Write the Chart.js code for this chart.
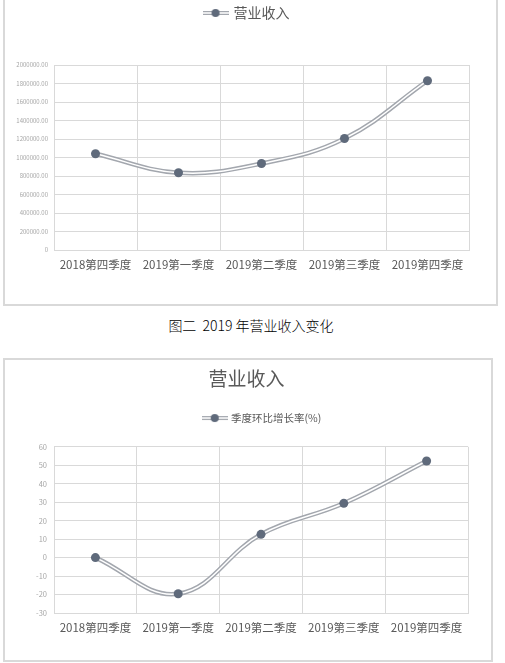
<!DOCTYPE html>
<html>
<head>
<meta charset="utf-8">
<script src="https://cdn.jsdelivr.net/npm/chart.js@4/dist/chart.umd.min.js"></script>
<style>
  body { margin: 0; background: #fff; width: 505px; height: 663px; position: relative; overflow: hidden; }
  .box { position: absolute; border: 2px solid #d9d9d9; background: #fff; }
  #caption { position: absolute; left: 0; width: 502px; top: 315px; text-align: center;
             font: 300 14px 'Noto Sans CJK SC', sans-serif; color: #000; }
</style>
</head>
<body>
<div class="box" style="left:3px; top:-4px; width:491px; height:306px;">
  <canvas id="chart1" width="491" height="306" style="position:absolute;left:0;top:0;"></canvas>
</div>
<div id="caption">图二&nbsp; 2019 年营业收入变化</div>
<div class="box" style="left:3px; top:358px; width:486px; height:300px;">
  <canvas id="chart2" width="486" height="300"></canvas>
</div>
<script>
// 数据
const categories = ['2018第四季度', '2019第一季度', '2019第二季度', '2019第三季度', '2019第四季度'];
const revenue = [1040000, 835000, 935000, 1205000, 1830000];
const qoqGrowth = [0, -19.6, 12.6, 29.4, 52.3];

const FONT = "'Noto Sans CJK SC', 'Noto Sans', sans-serif";
const LINE_GRAY = '#a3a7ae';
const POINT_COLOR = '#5f6a7b';
const GRID = '#d9d9d9';

// 图例里的小图标：双线 + 圆点
function legendMarker() {
    const c = document.createElement('canvas');
    c.width = 26; c.height = 10;
    const g = c.getContext('2d');
    g.strokeStyle = LINE_GRAY; g.lineWidth = 4;
    g.beginPath(); g.moveTo(0, 5); g.lineTo(26, 5); g.stroke();
    g.strokeStyle = '#fff'; g.lineWidth = 1.5;
    g.beginPath(); g.moveTo(0, 5); g.lineTo(26, 5); g.stroke();
    g.fillStyle = POINT_COLOR;
    g.beginPath(); g.arc(13, 5, 4, 0, Math.PI * 2); g.fill();
    return c;
}

// 图例高度（控制绘图区上边）+ 标题/图例水平偏移
function headerTweak(h, legendDx, titleDx) {
    const shift = (box, dx) => {
        const draw = box.draw;
        box.draw = function (area) {
            const ctx = this.ctx;
            ctx.save();
            ctx.translate(dx, 0);
            draw.call(this, area);
            ctx.restore();
        };
    };
    return {
        id: 'headerTweak',
        beforeInit(chart) {
            const lg = chart.legend;
            const fit = lg.fit;
            lg.fit = function () {
                fit.bind(lg)();
                this.height = h;
            };
            shift(lg, legendDx);
            if (chart.titleBlock) shift(chart.titleBlock, titleDx);
        }
    };
}

function makeChart(id, label, values, yOpts, extra) {
    const ctx = document.getElementById(id).getContext('2d');
    return new Chart(ctx, {
        type: 'line',
        data: {
            labels: categories,
            datasets: [{
                label: label,
                data: values,
                borderColor: '#fff',
                borderWidth: 1.5,
                tension: 0.4,
                pointRadius: 4.5,
                pointBackgroundColor: POINT_COLOR,
                pointBorderWidth: 0,
                order: 0
            }, {
                label: 'outline',
                data: values,
                borderColor: LINE_GRAY,
                borderWidth: 4.5,
                tension: 0.4,
                pointRadius: 0,
                order: 1
            }]
        },
        options: {
            responsive: false,
            animation: false,
            layout: { padding: extra.padding },
            plugins: {
                title: extra.title,
                tooltip: { enabled: false },
                legend: {
                    position: 'top',
                    labels: {
                        usePointStyle: true,
                        pointStyleWidth: 22,
                        padding: extra.legendPadding,
                        color: '#595959',
                        font: { family: FONT, size: extra.legendSize },
                        filter: item => item.datasetIndex === 0,
                        generateLabels: chart => [{
                            text: label,
                            datasetIndex: 0,
                            pointStyle: legendMarker(),
                            fontColor: '#595959',
                            lineWidth: 0
                        }, {
                            text: 'outline', datasetIndex: 1
                        }]
                    }
                }
            },
            scales: {
                x: {
                    offset: true,
                    grid: { offset: true, color: GRID, drawTicks: false },
                    border: { color: GRID },
                    ticks: {
                        padding: 8,
                        color: '#595959',
                        maxRotation: 0,
                        font: { family: FONT, size: 11.5 }
                    },
                    afterFit: s => { s.height = 30; }
                },
                y: Object.assign({
                    grid: { color: GRID, drawTicks: false },
                    border: { display: false },
                    afterFit: s => { s.width = 49; }
                }, yOpts)
            }
        },
        plugins: [headerTweak(extra.legendHeight, extra.legendDx, extra.titleDx)]
    });
}

makeChart('chart1', '营业收入', revenue, {
    min: 0,
    max: 2000000,
    ticks: {
        stepSize: 200000,
        padding: 6,
        color: '#a6a6a6',
        font: { family: FONT, size: 6 },
        callback: v => v === 0 ? '0' : v.toFixed(2)
    }
}, {
    padding: { left: 0, right: 27, top: 0, bottom: 24 },
    title: { display: false },
    legendPadding: 8,
    legendSize: 14,
    legendHeight: 67,
    legendDx: 10,
    titleDx: 0
});

makeChart('chart2', '季度环比增长率(%)', qoqGrowth, {
    min: -30,
    max: 60,
    ticks: {
        stepSize: 10,
        padding: 7,
        color: '#a6a6a6',
        font: { family: FONT, size: 7.5 }
    }
}, {
    padding: { left: 0, right: 23, top: 0, bottom: 17 },
    title: {
        display: true,
        text: '营业收入',
        color: '#595959',
        font: { family: FONT, size: 19, weight: 'normal' },
        padding: { top: 7, bottom: 17 }
    },
    legendPadding: 6,
    legendSize: 10.5,
    legendHeight: 40,
    legendDx: 26,
    titleDx: 10
});
</script>
</body>
</html>
